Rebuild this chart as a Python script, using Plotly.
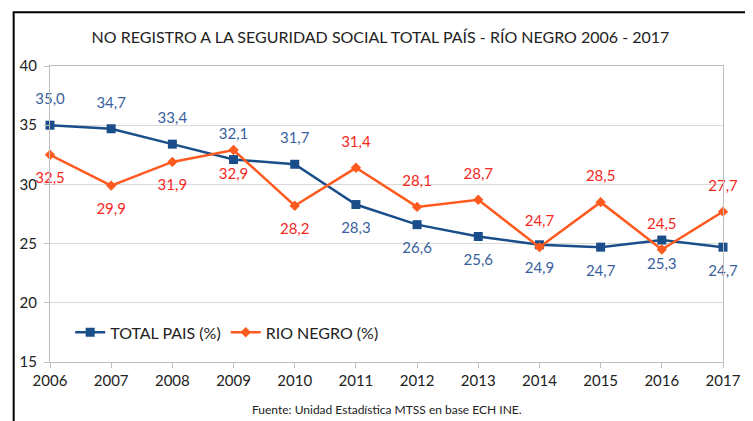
import pandas as pd
import plotly.graph_objects as go

# Funktion: Daten der Grafik
def generate_data():
    return pd.DataFrame({
        "Jahr": list(range(2006, 2018)),
        "Total": [35.0, 34.7, 33.4, 32.1, 31.7, 28.3, 26.6, 25.6, 24.9, 24.7, 25.3, 24.7],
        "RioNegro": [32.5, 29.9, 31.9, 32.9, 28.2, 31.4, 28.1, 28.7, 24.7, 28.5, 24.5, 27.7],
    })

# Funktion: Liniendiagramm generieren
def generate_chart(data):
    fig = go.Figure()

    fmt = lambda v: f"{v:.1f}".replace(".", ",")  # Komma als Dezimaltrennzeichen

    # Linie: Total País
    fig.add_trace(
        go.Scatter(
            x=data["Jahr"],
            y=data["Total"],
            mode="lines+markers",
            name="TOTAL PAIS (%)",
            line=dict(color="#1A4E8A", width=2.5),
            marker=dict(symbol="square", size=9, color="#1A4E8A"),
            cliponaxis=False,
        )
    )

    # Linie: Río Negro
    fig.add_trace(
        go.Scatter(
            x=data["Jahr"],
            y=data["RioNegro"],
            mode="lines+markers",
            name="RIO NEGRO (%)",
            line=dict(color="#FF5A1F", width=2.5),
            marker=dict(symbol="diamond", size=8, color="#FF5A1F"),
            cliponaxis=False,
        )
    )

    # Datenbeschriftungen (unsichtbare große Marker für mehr Abstand)
    for col, farbe, pos in [
        ("Total", "#3A5F9E", ["top center"] * 5 + ["bottom center"] * 7),
        ("RioNegro", "#F5281E", ["bottom center"] * 5 + ["top center"] * 7),
    ]:
        fig.add_trace(
            go.Scatter(
                x=data["Jahr"],
                y=data[col],
                mode="markers+text",
                marker=dict(size=26, color="rgba(0,0,0,0)"),
                text=[fmt(v) for v in data[col]],
                textposition=pos,
                textfont=dict(color=farbe, size=15),
                showlegend=False,
                hoverinfo="skip",
                cliponaxis=False,
            )
        )

    # Achsen
    fig.update_xaxes(
        range=[2006, 2017], dtick=1, showgrid=False,
        showline=True, linecolor="#BFBFBF", mirror=True,
        ticks="outside", ticklen=5, tickcolor="#BFBFBF",
        tickfont=dict(size=15, color="#222222"),
    )
    fig.update_yaxes(
        range=[15, 40], dtick=5, showgrid=True, gridcolor="#D9D9D9",
        showline=True, linecolor="#BFBFBF", mirror=True, zeroline=False,
        ticks="outside", ticklen=5, tickcolor="#BFBFBF", ticklabelstandoff=4,
        tickfont=dict(size=15, color="#222222"),
    )

    # Rahmen und Quelle
    fig.add_shape(
        type="rect", xref="paper", yref="paper",
        x0=-0.054, x1=1.2, y0=-0.4, y1=1.182,
        line=dict(color="black", width=2), layer="below",
    )
    fig.add_annotation(
        text="Fuente: Unidad Estadística MTSS en base ECH INE.",
        xref="paper", yref="paper", x=0.5, y=-0.162, yanchor="middle",
        showarrow=False, font=dict(size=12, color="#222222"),
    )

    fig.update_layout(
        title=dict(
            text="NO REGISTRO A LA SEGURIDAD SOCIAL TOTAL PAÍS - RÍO NEGRO 2006 - 2017",
            x=0.5, y=0.93, xanchor="center", yanchor="middle",
            font=dict(size=16, color="#222222"),
        ),
        font=dict(family="Lato, Liberation Sans, sans-serif"),
        legend=dict(
            orientation="h", x=0.03, y=0.1, xanchor="left", yanchor="middle",
            font=dict(size=16, color="#222222"), bgcolor="rgba(0,0,0,0)",
        ),
        plot_bgcolor="white",
        paper_bgcolor="white",
        margin={"r": 20, "t": 58, "l": 39, "b": 59},
        width=745,
        height=413,
    )
    return fig

fig = generate_chart(generate_data())
fig.write_html("out.html")
